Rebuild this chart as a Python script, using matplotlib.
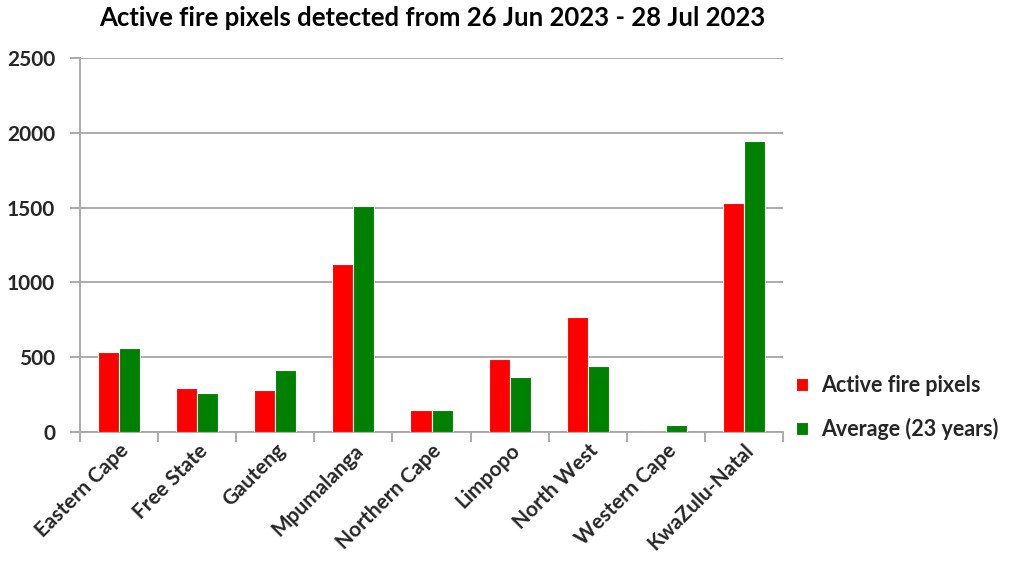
import matplotlib
matplotlib.use("Agg")
import matplotlib.pyplot as plt
import numpy as np

categories = ["Eastern Cape", "Free State", "Gauteng", "Mpumalanga", "Northern Cape",
              "Limpopo", "North West", "Western Cape", "KwaZulu-Natal"]
active = [536, 294, 280, 1120, 146, 489, 766, 0, 1534]
average = [560, 258, 415, 1508, 146, 368, 439, 49, 1947]
yticks = [0, 500, 1000, 1500, 2000, 2500]

plt.rcParams['font.family'] = ['Lato', 'DejaVu Sans']
fig = plt.figure(figsize=(10.22, 5.72), dpi=100)
ax = fig.add_axes([80/1022, 1-432/572, (783-80)/1022, (432-58)/572])

x = np.arange(len(categories))
w = 0.27
ax.bar(x - w/2, active, width=w, color='#ff0000', edgecolor='white', linewidth=0.8,
       label='Active fire pixels', zorder=3)
ax.bar(x + w/2, average, width=w, color='#008000', edgecolor='white', linewidth=0.8,
       label='Average (23 years)', zorder=3)

ax.set_xlim(-0.5, len(categories) - 0.5)
ax.set_ylim(0, 2500)
ax.set_yticks(yticks)
ax.set_yticklabels([str(v) for v in yticks], fontsize=15, fontweight='bold', color='#262626')
ax.yaxis.grid(True, color='#a6a6a6', linewidth=1.3, zorder=0)
ax.set_axisbelow(True)

ax.set_xticks(np.arange(len(categories) + 1) - 0.5)
ax.set_xticklabels([])
ax.set_xticks(x, minor=True)
ax.set_xticklabels(categories, minor=True, rotation=45, ha='right', va='top',
                   rotation_mode='anchor', fontsize=15, fontweight='bold', color='#262626')
ax.tick_params(axis='x', which='minor', length=0, pad=6)
ax.tick_params(axis='x', which='major', length=7, color='#a6a6a6', width=1.3)
ax.tick_params(axis='y', length=7, color='#a6a6a6', width=1.3, pad=11)

for s in ['top', 'right']:
    ax.spines[s].set_visible(False)
for s in ['left', 'bottom']:
    ax.spines[s].set_color('#a6a6a6')
    ax.spines[s].set_linewidth(1.3)

leg = ax.legend(loc='upper left', bbox_to_anchor=(777/1022, 1-356/572), bbox_transform=fig.transFigure,
                frameon=False, prop={'size': 15.5, 'weight': 'bold'}, handlelength=0.55,
                handleheight=0.55, handletextpad=0.6, labelspacing=1.0)
for t in leg.get_texts():
    t.set_color('#262626')

fig.text(432/1022, 1-18/572, "Active fire pixels detected from 26 Jun 2023 - 28 Jul 2023",
         ha='center', va='center', fontsize=18.5, fontweight='bold', color='#000000')

fig.savefig("out.png", dpi=100)
